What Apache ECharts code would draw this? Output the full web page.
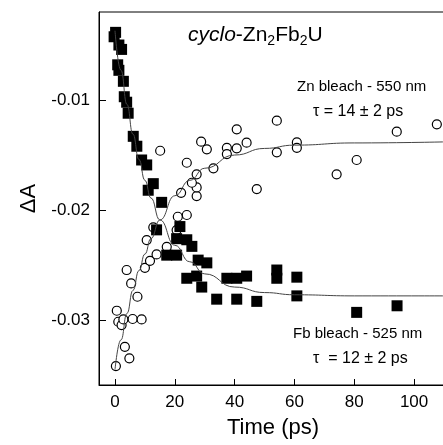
<!DOCTYPE html>
<html>
<head>
<meta charset="utf-8">
<script src="https://cdn.jsdelivr.net/npm/echarts@6/dist/echarts.min.js"></script>
<style>
  html, body { margin: 0; padding: 0; background: #fff; }
  #chart { width: 443px; height: 445px; }
</style>
</head>
<body>
<div id="chart"></div>
<script>
  // Fb bleach (525 nm), filled squares
  var fbTime = [0.2, -0.3, 1.3, 2.2, 0.9, 1.3, 2.8, 3.1, 3.9, 4.4, 6.1, 7.3, 8.9, 10.6, 12.8, 11.1,
    15.6, 13.9, 21.7, 20.6, 24.0, 25.7, 17.3, 20.6, 27.8, 30.7, 24.0, 27.3, 29.0, 34.0, 37.4,
    40.7, 40.7, 44.0, 47.4, 54.1, 54.1, 60.8, 60.8, 80.8, 94.3];
  var fbDeltaA = [-0.00385, -0.00425, -0.0050, -0.0054, -0.0068, -0.0073, -0.0083, -0.0097, -0.0102,
    -0.0112, -0.0133, -0.0142, -0.01545, -0.0159, -0.0176, -0.0182, -0.0193, -0.0218, -0.0215,
    -0.0226, -0.0227, -0.0233, -0.0241, -0.0241, -0.02455, -0.0248, -0.0262, -0.0260, -0.0270,
    -0.0281, -0.0262, -0.0262, -0.0281, -0.0260, -0.0283, -0.02545, -0.0262, -0.0261, -0.0278,
    -0.0293, -0.0287];

  // Zn bleach (550 nm), open circles
  var znTime = [0.3, 3.3, 4.8, 0.6, 1.1, 2.2, 2.8, 5.9, 8.9, 5.4, 7.5, 3.9, 10.0, 11.7, 13.9, 10.6,
    17.3, 12.8, 20.6, 21.0, 24.0, 22.1, 27.3, 27.3, 25.7, 27.3, 24.0, 32.9, 15.1, 28.8, 30.7,
    37.4, 37.4, 40.7, 44.0, 40.7, 54.1, 54.1, 60.8, 60.8, 47.4, 74.1, 80.8, 94.2, 107.6];
  var znDeltaA = [-0.03418, -0.03243, -0.03348, -0.02915, -0.03015, -0.03045, -0.02994, -0.0299,
    -0.02994, -0.02667, -0.02788, -0.02545, -0.02525, -0.02461, -0.02403, -0.02273, -0.02334,
    -0.02157, -0.02182, -0.02061, -0.02045, -0.01843, -0.01873, -0.01794, -0.01752, -0.01675,
    -0.0157, -0.01621, -0.01461, -0.01379, -0.01448, -0.01434, -0.01491, -0.01439, -0.01388,
    -0.01266, -0.01188, -0.01475, -0.01385, -0.01434, -0.01809, -0.01675, -0.01545, -0.01288,
    -0.01221];

  // fitted curves
  var fitTime = [0, 2, 4, 6, 8, 10, 12, 15, 20, 25, 30, 40, 50, 60, 80, 111];
  var fbFit = [-0.0037, -0.0073, -0.0104, -0.0131, -0.0154, -0.0173, -0.0189, -0.0209, -0.0232,
    -0.0247, -0.0258, -0.0270, -0.0275, -0.0277, -0.0278, -0.0278];
  var znFit = [-0.0345, -0.0318, -0.0294, -0.0273, -0.0255, -0.0240, -0.0226, -0.0209, -0.0187,
    -0.0173, -0.0162, -0.0150, -0.0144, -0.0141, -0.0139, -0.0138];

  var xTicks = [0, 20, 40, 60, 80, 100];
  var yTicks = [-0.03, -0.02, -0.01];

  function pairs(xs, ys) {
    return xs.map(function (x, i) { return [x, ys[i]]; });
  }

  var font = '"Liberation Sans", Arial, sans-serif';
  var chart = echarts.init(document.getElementById('chart'));

  chart.setOption({
    animation: false,
    textStyle: { fontFamily: font },
    grid: {
      left: 99, top: 12, width: 348, height: 373,
      outerBoundsMode: 'none', containLabel: false,
      show: true, borderColor: '#000', borderWidth: 1
    },
    xAxis: {
      type: 'value', min: -5.35, max: 111,
      name: 'Time (ps)', nameLocation: 'middle', nameGap: 32,
      nameTextStyle: { fontSize: 22, color: '#000', fontFamily: font },
      axisLine: { onZero: false, lineStyle: { color: '#000', width: 1 } },
      axisTick: { inside: true, length: 6, customValues: xTicks, lineStyle: { color: '#000' } },
      axisLabel: { customValues: xTicks, fontSize: 17, color: '#000', margin: 9, fontFamily: font },
      splitLine: { show: false }
    },
    yAxis: {
      type: 'value', min: -0.0359, max: -0.0020,
      name: 'ΔA', nameLocation: 'middle', nameGap: 56, nameRotate: 90,
      nameTextStyle: { fontSize: 22, color: '#000', fontFamily: font },
      axisLine: { show: true, onZero: false, lineStyle: { color: '#000', width: 1 } },
      axisTick: { show: true, inside: true, length: 7, customValues: yTicks, lineStyle: { color: '#000' } },
      axisLabel: {
        customValues: yTicks, fontSize: 17, color: '#000', margin: 9, fontFamily: font,
        formatter: function (v) { return v.toFixed(2); }
      },
      splitLine: { show: false }
    },
    series: [
      {
        type: 'line', data: pairs(fitTime, fbFit), smooth: true, smoothMonotone: 'x',
        showSymbol: false, lineStyle: { color: '#444', width: 1 }, silent: true
      },
      {
        type: 'line', data: pairs(fitTime, znFit), smooth: true, smoothMonotone: 'x',
        showSymbol: false, lineStyle: { color: '#444', width: 1 }, silent: true
      },
      {
        type: 'scatter', data: pairs(znTime, znDeltaA), symbol: 'circle', symbolSize: 9,
        itemStyle: { color: '#fff', borderColor: '#000', borderWidth: 1.2, opacity: 1 }
      },
      {
        type: 'scatter', data: pairs(fbTime, fbDeltaA), symbol: 'rect', symbolSize: 11,
        itemStyle: { color: '#000', opacity: 1 }
      }
    ],
    graphic: [
      {
        type: 'text', left: 188, top: 25,
        style: {
          text: '{i|cyclo}{n|-Zn}{s|2}{n|Fb}{s|2}{n|U}',
          rich: {
            i: { fontSize: 21, fontStyle: 'italic', fontFamily: font, lineHeight: 26, fill: '#000' },
            n: { fontSize: 21, fontFamily: font, lineHeight: 26, fill: '#000' },
            s: { fontSize: 14, fontFamily: font, lineHeight: 14, verticalAlign: 'bottom', fill: '#000' }
          }
        }
      },
      {
        type: 'text', left: 297, top: 79,
        style: { text: 'Zn bleach - 550 nm', fontSize: 15, fontFamily: font, fill: '#000' }
      },
      {
        type: 'text', left: 313, top: 104,
        style: { text: 'τ = 14 ± 2 ps', fontSize: 16, fontFamily: font, fill: '#000' }
      },
      {
        type: 'text', left: 293, top: 326,
        style: { text: 'Fb bleach - 525 nm', fontSize: 15, fontFamily: font, fill: '#000' }
      },
      {
        type: 'text', left: 313, top: 351,
        style: { text: 'τ  = 12 ± 2 ps', fontSize: 16, fontFamily: font, fill: '#000' }
      }
    ]
  });
</script>
</body>
</html>
